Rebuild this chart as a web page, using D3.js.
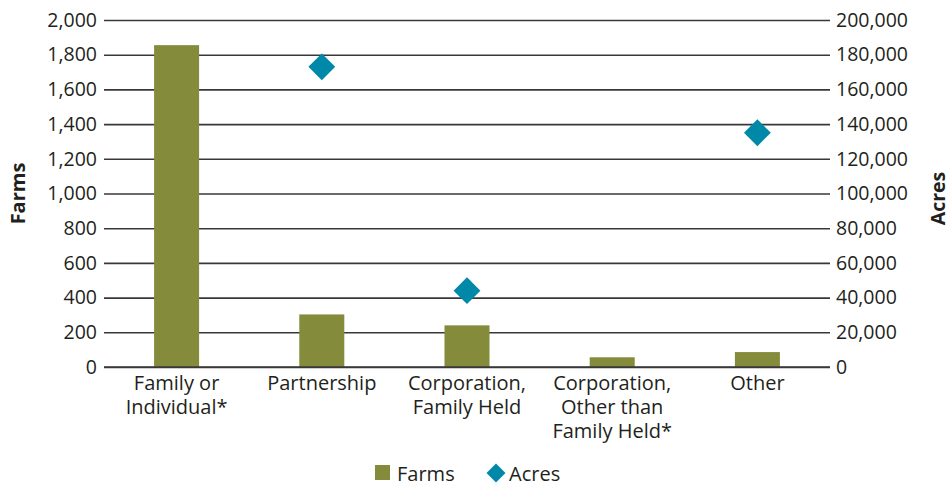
<!DOCTYPE html>
<html>
<head>
<meta charset="utf-8">
<script src="https://cdn.jsdelivr.net/npm/d3@7"></script>
<style>
  body { margin: 0; background: #fff; }
  text { font-family: "Open Sans", "Noto Sans", sans-serif; fill: #231f20; }
</style>
</head>
<body>
<div id="chart"></div>
<script>
// data
var categories = [
  ["Family or", "Individual*"],
  ["Partnership"],
  ["Corporation,", "Family Held"],
  ["Corporation,", "Other than", "Family Held*"],
  ["Other"]
];
var farms = [1855, 303, 240, 56, 86];
var acres = [null, 173000, 44000, null, 135000];
var farmTicks = [0, 200, 400, 600, 800, 1000, 1200, 1400, 1600, 1800, 2000];
var acreTicks = [0, 20000, 40000, 60000, 80000, 100000, 120000, 140000, 160000, 180000, 200000];

var svgWidth = 951;
var svgHeight = 487;
var margin = { top: 20, right: 121, bottom: 120, left: 104 };
var width = svgWidth - margin.left - margin.right;
var height = svgHeight - margin.top - margin.bottom;

var barColor = "#848b3a";
var diamondColor = "#0088a8";

var svg = d3.select("#chart").append("svg")
  .attr("width", svgWidth)
  .attr("height", svgHeight);

var chartGroup = svg.append("g")
  .attr("transform", `translate(${margin.left}, ${margin.top})`);

var xScale = d3.scaleBand()
  .domain(d3.range(categories.length))
  .range([0, width])
  .paddingInner(0.69)
  .paddingOuter(0.345);

var yLeft = d3.scaleLinear().domain([0, 2000]).range([height, 0]);
var yRight = d3.scaleLinear().domain([0, 200000]).range([height, 0]);

var fmt = d3.format(",");

// gridlines + right axis (ticks extend as gridlines)
var rightAxis = d3.axisRight(yRight)
  .tickValues(acreTicks)
  .tickSize(width)
  .tickPadding(6)
  .tickFormat(fmt);

var rightG = chartGroup.append("g").call(rightAxis);
rightG.select(".domain").remove();
rightG.selectAll(".tick line").attr("stroke", "#383838").attr("stroke-width", 1.6);
rightG.selectAll(".tick text").attr("font-size", 19.5).attr("fill", "#231f20");

var leftAxis = d3.axisLeft(yLeft)
  .tickValues(farmTicks)
  .tickSize(0)
  .tickPadding(7)
  .tickFormat(fmt);

var leftG = chartGroup.append("g").call(leftAxis);
leftG.select(".domain").remove();
leftG.selectAll(".tick text").attr("font-size", 19.5).attr("fill", "#231f20");

// bars
chartGroup.selectAll(".bar")
  .data(farms)
  .enter()
  .append("rect")
  .attr("class", "bar")
  .attr("x", (d, i) => xScale(i))
  .attr("y", d => yLeft(d))
  .attr("width", xScale.bandwidth())
  .attr("height", d => height - yLeft(d))
  .attr("fill", barColor);

// baseline on top of bars
chartGroup.append("line")
  .attr("x1", 0).attr("x2", width)
  .attr("y1", height).attr("y2", height)
  .attr("stroke", "#383838").attr("stroke-width", 1.6);

// diamonds
var diamond = d3.symbol().type(d3.symbolSquare).size(360);
chartGroup.selectAll(".acre")
  .data(acres.map((v, i) => ({ v: v, i: i })).filter(d => d.v != null))
  .enter()
  .append("path")
  .attr("class", "acre")
  .attr("d", diamond)
  .attr("transform", d => `translate(${xScale(d.i) + xScale.bandwidth() / 2}, ${yRight(d.v)}) rotate(45)`)
  .attr("fill", diamondColor);

// category labels, one text per line
var labelLines = [];
categories.forEach((lines, i) => {
  lines.forEach((t, j) => labelLines.push({ i: i, j: j, t: t }));
});

chartGroup.selectAll(".xlab")
  .data(labelLines)
  .enter()
  .append("text")
  .attr("class", "xlab")
  .attr("text-anchor", "middle")
  .attr("font-size", 20)
  .attr("x", d => xScale(d.i) + xScale.bandwidth() / 2)
  .attr("y", d => height + 23 + d.j * 24)
  .text(d => d.t);

// axis titles
svg.append("text")
  .attr("transform", `translate(25, ${margin.top + height / 2}) rotate(-90)`)
  .attr("text-anchor", "middle")
  .attr("font-size", 20)
  .attr("font-weight", "bold")
  .text("Farms");

svg.append("text")
  .attr("transform", `translate(945, ${margin.top + height / 2 + 5}) rotate(-90)`)
  .attr("text-anchor", "middle")
  .attr("font-size", 19.5)
  .attr("font-weight", "bold")
  .text("Acres");

// legend
var legend = svg.append("g").attr("transform", "translate(375, 465)");
legend.append("rect")
  .attr("width", 15).attr("height", 15)
  .attr("fill", barColor);
legend.append("text")
  .attr("x", 22).attr("y", 16)
  .attr("font-size", 20)
  .text("Farms");
legend.append("path")
  .attr("d", d3.symbol().type(d3.symbolSquare).size(180))
  .attr("transform", "translate(121, 8) rotate(45)")
  .attr("fill", diamondColor);
legend.append("text")
  .attr("x", 134).attr("y", 16)
  .attr("font-size", 20)
  .text("Acres");
</script>
</body>
</html>
